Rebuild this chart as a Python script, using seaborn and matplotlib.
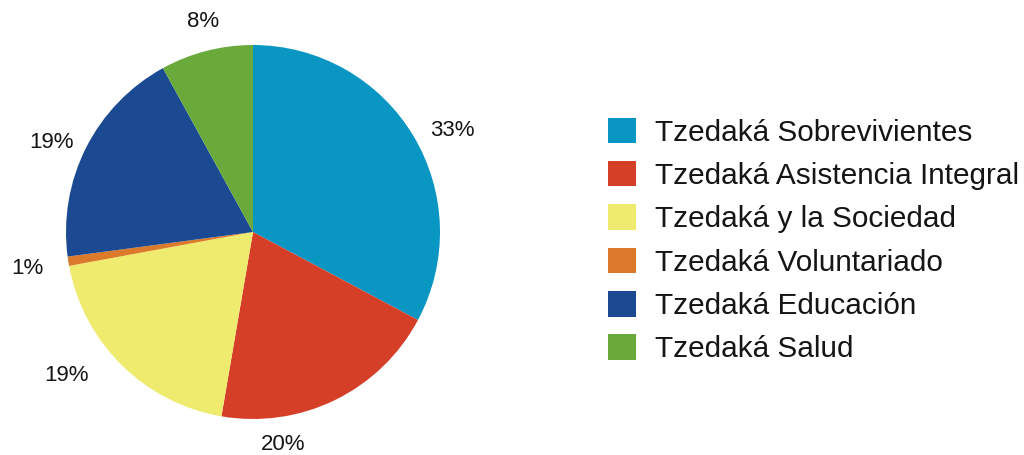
import matplotlib
matplotlib.use("Agg")

import matplotlib.pyplot as plt
import seaborn as sns

# Data

categories = [
    "Tzedaká Sobrevivientes",
    "Tzedaká Asistencia Integral",
    "Tzedaká y la Sociedad",
    "Tzedaká Voluntariado",
    "Tzedaká Educación",
    "Tzedaká Salud",
]

shares = [32.8, 19.9, 19.4, 0.8, 19.1, 8.0]

pct_labels = ["33%", "20%", "19%", "1%", "19%", "8%"]

colors = [
    "#0a96c3",
    "#d53f28",
    "#efeb6e",
    "#dc7a2b",
    "#1b4a92",
    "#69aa3b",
]

# label placement in pie-radius units (manual, as in the original)
label_pos = [
    (1.064, 0.545),
    (0.160, -1.139),
    (-0.995, -0.765),
    (-1.209, -0.193),
    (-1.075, 0.476),
    (-0.267, 1.123),
]

sns.set_theme(style="white")
plt.rcParams["font.family"] = ["Liberation Sans", "DejaVu Sans"]

palette = sns.color_palette(colors)

fig = plt.figure(figsize=(10.24, 4.55), dpi=100)

# pie centre at (253, 232) px, radius 187 px
W, H = 1024, 455
half = 253
ax = fig.add_axes([
    (253 - half) / W,
    (H - 232 - half) / H,
    2 * half / W,
    2 * half / H
])

wedges, _ = ax.pie(
    shares,
    colors=palette,
    startangle=90,
    counterclock=False,
    radius=1.0,
    wedgeprops=dict(linewidth=0)
)

lim = half / 187
ax.set_xlim(-lim, lim)
ax.set_ylim(-lim, lim)
ax.set_aspect("equal")
ax.axis("off")

for txt, (x, y) in zip(pct_labels, label_pos):
    ax.text(
        x, y, txt,
        ha="center",
        va="center",
        fontsize=16,
        color="#151515"
    )

fig.legend(
    wedges,
    categories,
    loc="center left",
    bbox_to_anchor=(608 / W, 1 - 240.5 / H),
    frameon=False,
    fontsize=21.4,
    handlelength=0.94,
    handleheight=0.94,
    handletextpad=0.64,
    labelspacing=0.485,
    borderpad=0,
    borderaxespad=0,
    labelcolor="#151515"
)

plt.savefig(
    "out.png",
    dpi=100
)

plt.close()
